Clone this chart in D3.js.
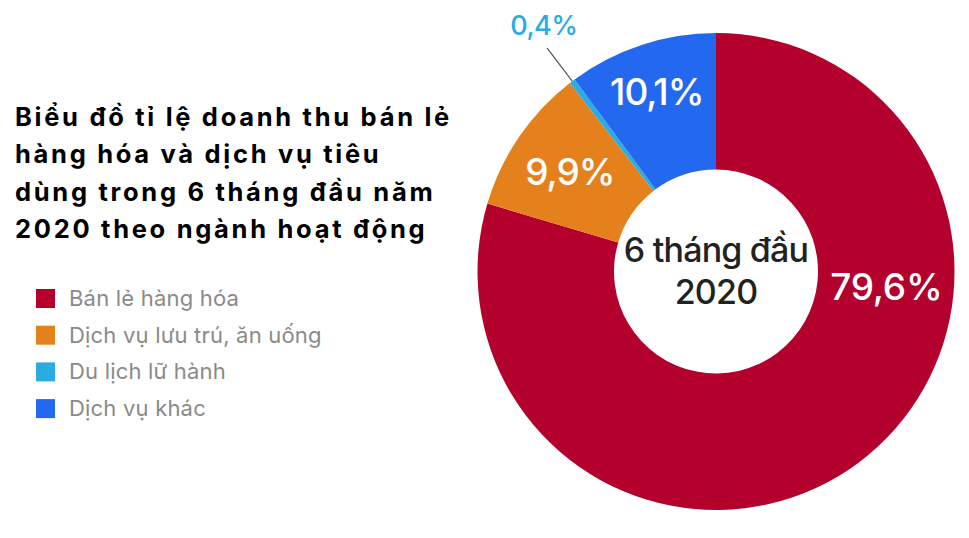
<!DOCTYPE html>
<html>
<head>
<meta charset="UTF-8">
<title>Doanh thu bán lẻ 6 tháng đầu 2020</title>
<script src="https://d3js.org/d3.v7.min.js"></script>
<style>
  body { margin: 0; background: #fff; }
  svg { font-family: Inter, "Noto Sans", sans-serif; }
</style>
</head>
<body>
<svg width="969" height="538"></svg>
<script>
  // data
  const categories = ["Bán lẻ hàng hóa", "Dịch vụ lưu trú, ăn uống", "Du lịch lữ hành", "Dịch vụ khác"];
  const shares = [79.6, 9.9, 0.4, 10.1];
  const labels = ["79,6%", "9,9%", "0,4%", "10,1%"];
  const colors = ["#b3002d", "#e5811d", "#2aace2", "#2369ef"];
  const titleLines = [
    "Biểu đồ tỉ lệ doanh thu bán lẻ",
    "hàng hóa và dịch vụ tiêu",
    "dùng trong 6 tháng đầu năm",
    "2020 theo ngành hoạt động"
  ];
  const centerLines = ["6 tháng đầu", "2020"];

  const svg = d3.select("svg");
  const cx = 716, cy = 271.5;
  const rOuter = 238.5, rInner = 102;

  const color = d3.scaleOrdinal().domain(categories).range(colors);

  const pie = d3.pie().sort(null).value(d => d.v);
  const arcs = pie(categories.map((c, i) => ({ c: c, v: shares[i], label: labels[i] })));

  const arc = d3.arc().innerRadius(rInner).outerRadius(rOuter);

  const g = svg.append("g").attr("transform", `translate(${cx},${cy})`);

  g.selectAll("path.slice")
    .data(arcs)
    .join("path")
    .attr("class", "slice")
    .attr("d", arc)
    .attr("fill", d => color(d.data.c));

  // label placement: radius, and an optional angle override (degrees)
  const labelPlace = [
    { r: 171, angle: 95 },
    { r: 177 },
    { r: 300, angle: 325, outside: true },
    { r: 190 }
  ];

  function polar(r, a) {
    return [r * Math.sin(a), -r * Math.cos(a)];
  }

  arcs.forEach((d, i) => {
    const p = labelPlace[i];
    const mid = (d.startAngle + d.endAngle) / 2;
    const at = p.angle != null ? p.angle * Math.PI / 180 : mid;
    const [x, y] = polar(p.r, at);
    if (p.outside) {
      const [x1, y1] = polar(rOuter, mid);
      const [x2, y2] = polar(280, mid);
      g.append("line")
        .attr("x1", x1).attr("y1", y1)
        .attr("x2", x2).attr("y2", y2)
        .attr("stroke", "#555")
        .attr("stroke-width", 1.2);
      g.append("text")
        .attr("x", x).attr("y", y)
        .attr("text-anchor", "middle")
        .attr("dominant-baseline", "central")
        .attr("font-size", 27)
        .attr("font-weight", 500)
        .attr("letter-spacing", -0.5)
        .attr("fill", colors[i])
        .text(d.data.label);
    } else {
      g.append("text")
        .attr("x", x).attr("y", y)
        .attr("text-anchor", "middle")
        .attr("dominant-baseline", "central")
        .attr("font-size", 37)
        .attr("font-weight", 500)
        .attr("fill", "#fff")
        .attr("letter-spacing", i === 0 ? -0.2 : -1)
        .text(d.data.label);
    }
  });

  // center text
  g.selectAll("text.center")
    .data(centerLines)
    .join("text")
    .attr("class", "center")
    .attr("text-anchor", "middle")
    .attr("y", (d, i) => -10 + i * 42)
    .attr("font-size", 34)
    .attr("font-weight", 500)
    .attr("fill", "#222")
    .attr("letter-spacing", -0.8)
    .text(d => d);

  // title
  svg.append("g")
    .selectAll("text")
    .data(titleLines)
    .join("text")
    .attr("x", 15)
    .attr("y", (d, i) => 126 + i * 37.3)
    .attr("font-size", 25.5)
    .attr("font-weight", 700)
    .attr("letter-spacing", 2.7)
    .attr("fill", "#000")
    .text(d => d);

  // legend
  const legend = svg.append("g").attr("transform", "translate(36,289)");
  const rows = legend.selectAll("g")
    .data(categories)
    .join("g")
    .attr("transform", (d, i) => `translate(0,${i * 36.7})`);
  rows.append("rect")
    .attr("width", 19).attr("height", 19)
    .attr("fill", d => color(d));
  rows.append("text")
    .attr("x", 33)
    .attr("y", 17)
    .attr("font-size", 22)
    .attr("letter-spacing", 0.2)
    .attr("fill", "#8a8a8a")
    .text(d => d);
</script>
</body>
</html>
